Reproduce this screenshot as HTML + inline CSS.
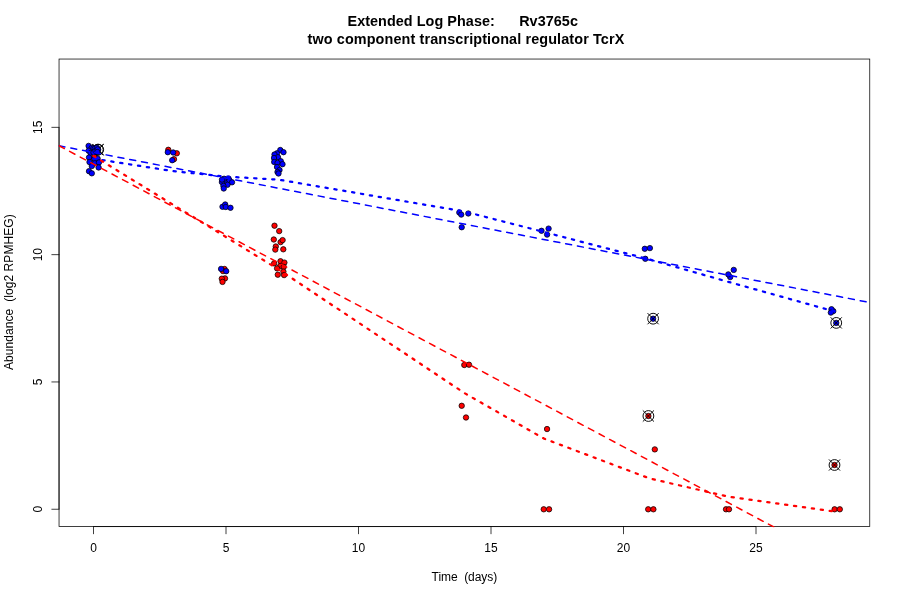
<!DOCTYPE html>
<html><head><meta charset="utf-8"><style>
html,body{margin:0;padding:0;background:#fff;}
svg{display:block;will-change:transform}
text{font-family:"Liberation Sans",sans-serif;font-size:12px;fill:#000;white-space:pre}
.t{font-weight:bold;font-size:14.4px}
</style></head><body>
<svg width="900" height="600" viewBox="0 0 900 600">
<rect width="900" height="600" fill="#fff"/>
<text class="t" x="462.7" y="26" text-anchor="middle" textLength="230.4" lengthAdjust="spacing" xml:space="preserve">Extended Log Phase:      Rv3765c</text>
<text class="t" x="465.9" y="43.9" text-anchor="middle" textLength="316.8" lengthAdjust="spacing">two component transcriptional regulator TcrX</text>
<text x="464.4" y="581" text-anchor="middle" textLength="65.6" lengthAdjust="spacing" xml:space="preserve">Time  (days)</text>
<text transform="translate(12.8,292.2) rotate(-90)" text-anchor="middle" textLength="155.8" lengthAdjust="spacing" xml:space="preserve">Abundance  (log2 RPMHEG)</text>
<rect x="59.04" y="59.04" width="810.72" height="467.5199999999999" fill="none" stroke="#000" stroke-width="0.75"/>
<path d="M93.50 526.56H756.00" stroke="#000" stroke-width="0.75" fill="none"/>
<path d="M59.04 509.25V127.35" stroke="#000" stroke-width="0.75" fill="none"/>
<path d="M93.50 526.56v7.2" stroke="#000" stroke-width="0.75" stroke-linecap="round" fill="none"/><text x="93.50" y="551.6" text-anchor="middle">0</text><path d="M226.00 526.56v7.2" stroke="#000" stroke-width="0.75" stroke-linecap="round" fill="none"/><text x="226.00" y="551.6" text-anchor="middle">5</text><path d="M358.50 526.56v7.2" stroke="#000" stroke-width="0.75" stroke-linecap="round" fill="none"/><text x="358.50" y="551.6" text-anchor="middle">10</text><path d="M491.00 526.56v7.2" stroke="#000" stroke-width="0.75" stroke-linecap="round" fill="none"/><text x="491.00" y="551.6" text-anchor="middle">15</text><path d="M623.50 526.56v7.2" stroke="#000" stroke-width="0.75" stroke-linecap="round" fill="none"/><text x="623.50" y="551.6" text-anchor="middle">20</text><path d="M756.00 526.56v7.2" stroke="#000" stroke-width="0.75" stroke-linecap="round" fill="none"/><text x="756.00" y="551.6" text-anchor="middle">25</text>
<path d="M59.04 509.25h-7.2" stroke="#000" stroke-width="0.75" stroke-linecap="round" fill="none"/><text transform="translate(41.5,509.25) rotate(-90)" text-anchor="middle">0</text><path d="M59.04 381.95h-7.2" stroke="#000" stroke-width="0.75" stroke-linecap="round" fill="none"/><text transform="translate(41.5,381.95) rotate(-90)" text-anchor="middle">5</text><path d="M59.04 254.65h-7.2" stroke="#000" stroke-width="0.75" stroke-linecap="round" fill="none"/><text transform="translate(41.5,254.65) rotate(-90)" text-anchor="middle">10</text><path d="M59.04 127.35h-7.2" stroke="#000" stroke-width="0.75" stroke-linecap="round" fill="none"/><text transform="translate(41.5,127.35) rotate(-90)" text-anchor="middle">15</text>
<clipPath id="c"><rect x="58.6" y="58.6" width="811.6" height="468.6"/></clipPath>
<g clip-path="url(#c)">
<circle cx="94.00" cy="158.00" r="2.7" fill="#ff0000" stroke="#000" stroke-width="0.75"/>
<circle cx="96.00" cy="161.00" r="2.7" fill="#ff0000" stroke="#000" stroke-width="0.75"/>
<circle cx="94.60" cy="156.50" r="2.7" fill="#ff0000" stroke="#000" stroke-width="0.75"/>
<circle cx="168.30" cy="149.80" r="2.7" fill="#ff0000" stroke="#000" stroke-width="0.75"/>
<circle cx="176.80" cy="153.30" r="2.7" fill="#ff0000" stroke="#000" stroke-width="0.75"/>
<circle cx="174.00" cy="159.20" r="2.7" fill="#ff0000" stroke="#000" stroke-width="0.75"/>
<circle cx="224.50" cy="269.00" r="2.7" fill="#ff0000" stroke="#000" stroke-width="0.75"/>
<circle cx="223.00" cy="271.10" r="2.7" fill="#ff0000" stroke="#000" stroke-width="0.75"/>
<circle cx="225.00" cy="278.40" r="2.7" fill="#ff0000" stroke="#000" stroke-width="0.75"/>
<circle cx="221.80" cy="278.70" r="2.7" fill="#ff0000" stroke="#000" stroke-width="0.75"/>
<circle cx="222.50" cy="281.90" r="2.7" fill="#ff0000" stroke="#000" stroke-width="0.75"/>
<circle cx="274.50" cy="225.70" r="2.7" fill="#ff0000" stroke="#000" stroke-width="0.75"/>
<circle cx="279.20" cy="231.10" r="2.7" fill="#ff0000" stroke="#000" stroke-width="0.75"/>
<circle cx="273.80" cy="239.50" r="2.7" fill="#ff0000" stroke="#000" stroke-width="0.75"/>
<circle cx="280.60" cy="242.10" r="2.7" fill="#ff0000" stroke="#000" stroke-width="0.75"/>
<circle cx="282.60" cy="240.10" r="2.7" fill="#ff0000" stroke="#000" stroke-width="0.75"/>
<circle cx="275.80" cy="246.50" r="2.7" fill="#ff0000" stroke="#000" stroke-width="0.75"/>
<circle cx="275.30" cy="249.60" r="2.7" fill="#ff0000" stroke="#000" stroke-width="0.75"/>
<circle cx="283.30" cy="249.30" r="2.7" fill="#ff0000" stroke="#000" stroke-width="0.75"/>
<circle cx="280.50" cy="261.20" r="2.7" fill="#ff0000" stroke="#000" stroke-width="0.75"/>
<circle cx="284.40" cy="262.60" r="2.7" fill="#ff0000" stroke="#000" stroke-width="0.75"/>
<circle cx="274.10" cy="263.40" r="2.7" fill="#ff0000" stroke="#000" stroke-width="0.75"/>
<circle cx="280.20" cy="266.00" r="2.7" fill="#ff0000" stroke="#000" stroke-width="0.75"/>
<circle cx="283.70" cy="266.90" r="2.7" fill="#ff0000" stroke="#000" stroke-width="0.75"/>
<circle cx="277.10" cy="268.40" r="2.7" fill="#ff0000" stroke="#000" stroke-width="0.75"/>
<circle cx="283.40" cy="271.60" r="2.7" fill="#ff0000" stroke="#000" stroke-width="0.75"/>
<circle cx="277.80" cy="274.70" r="2.7" fill="#ff0000" stroke="#000" stroke-width="0.75"/>
<circle cx="284.10" cy="275.10" r="2.7" fill="#ff0000" stroke="#000" stroke-width="0.75"/>
<circle cx="464.30" cy="365.00" r="2.7" fill="#ff0000" stroke="#000" stroke-width="0.75"/>
<circle cx="469.00" cy="364.70" r="2.7" fill="#ff0000" stroke="#000" stroke-width="0.75"/>
<circle cx="461.70" cy="405.80" r="2.7" fill="#ff0000" stroke="#000" stroke-width="0.75"/>
<circle cx="466.00" cy="417.50" r="2.7" fill="#ff0000" stroke="#000" stroke-width="0.75"/>
<circle cx="547.05" cy="429.05" r="2.7" fill="#ff0000" stroke="#000" stroke-width="0.75"/>
<circle cx="543.73" cy="509.30" r="2.7" fill="#ff0000" stroke="#000" stroke-width="0.75"/>
<circle cx="549.07" cy="509.30" r="2.7" fill="#ff0000" stroke="#000" stroke-width="0.75"/>
<circle cx="648.40" cy="416.00" r="2.7" fill="#ff0000" stroke="#000" stroke-width="0.75"/>
<circle cx="654.80" cy="449.40" r="2.7" fill="#ff0000" stroke="#000" stroke-width="0.75"/>
<circle cx="648.20" cy="509.30" r="2.7" fill="#ff0000" stroke="#000" stroke-width="0.75"/>
<circle cx="653.40" cy="509.30" r="2.7" fill="#ff0000" stroke="#000" stroke-width="0.75"/>
<circle cx="726.00" cy="509.30" r="2.7" fill="#ff0000" stroke="#000" stroke-width="0.75"/>
<circle cx="729.00" cy="509.30" r="2.7" fill="#ff0000" stroke="#000" stroke-width="0.75"/>
<circle cx="834.50" cy="465.00" r="2.7" fill="#ff0000" stroke="#000" stroke-width="0.75"/>
<circle cx="834.60" cy="509.30" r="2.7" fill="#ff0000" stroke="#000" stroke-width="0.75"/>
<circle cx="839.80" cy="509.30" r="2.7" fill="#ff0000" stroke="#000" stroke-width="0.75"/>
<circle cx="98.20" cy="149.60" r="2.7" fill="#0000ff" stroke="#000" stroke-width="0.75"/>
<circle cx="97.80" cy="149.75" r="5.4" fill="none" stroke="#000" stroke-width="0.95"/>
<path d="M92.50 144.45L103.10 155.05M92.50 155.05L103.10 144.45" fill="none" stroke="#000" stroke-width="0.95" stroke-linecap="round"/>
<circle cx="98.20" cy="149.60" r="5.4" fill="none" stroke="#000" stroke-width="0.95"/>
<path d="M92.90 144.30L103.50 154.90M92.90 154.90L103.50 144.30" fill="none" stroke="#000" stroke-width="0.95" stroke-linecap="round"/>
<circle cx="88.60" cy="145.90" r="2.7" fill="#0000ff" stroke="#000" stroke-width="0.75"/>
<circle cx="91.70" cy="147.90" r="2.7" fill="#0000ff" stroke="#000" stroke-width="0.75"/>
<circle cx="93.40" cy="148.30" r="2.7" fill="#0000ff" stroke="#000" stroke-width="0.75"/>
<circle cx="94.80" cy="148.50" r="2.7" fill="#0000ff" stroke="#000" stroke-width="0.75"/>
<circle cx="88.60" cy="150.70" r="2.7" fill="#0000ff" stroke="#000" stroke-width="0.75"/>
<circle cx="90.60" cy="152.90" r="2.7" fill="#0000ff" stroke="#000" stroke-width="0.75"/>
<circle cx="93.50" cy="152.50" r="2.7" fill="#0000ff" stroke="#000" stroke-width="0.75"/>
<circle cx="95.50" cy="150.80" r="2.7" fill="#0000ff" stroke="#000" stroke-width="0.75"/>
<circle cx="96.90" cy="147.80" r="2.7" fill="#0000ff" stroke="#000" stroke-width="0.75"/>
<circle cx="97.70" cy="149.40" r="2.7" fill="#0000ff" stroke="#000" stroke-width="0.75"/>
<circle cx="97.30" cy="152.00" r="2.7" fill="#0000ff" stroke="#000" stroke-width="0.75"/>
<circle cx="89.00" cy="157.50" r="2.7" fill="#0000ff" stroke="#000" stroke-width="0.75"/>
<circle cx="94.40" cy="158.90" r="2.7" fill="#0000ff" stroke="#000" stroke-width="0.75"/>
<circle cx="97.60" cy="158.60" r="2.7" fill="#0000ff" stroke="#000" stroke-width="0.75"/>
<circle cx="89.50" cy="162.10" r="2.7" fill="#0000ff" stroke="#000" stroke-width="0.75"/>
<circle cx="94.80" cy="163.30" r="2.7" fill="#0000ff" stroke="#000" stroke-width="0.75"/>
<circle cx="99.00" cy="162.40" r="2.7" fill="#0000ff" stroke="#000" stroke-width="0.75"/>
<circle cx="91.80" cy="166.10" r="2.7" fill="#0000ff" stroke="#000" stroke-width="0.75"/>
<circle cx="98.60" cy="167.50" r="2.7" fill="#0000ff" stroke="#000" stroke-width="0.75"/>
<circle cx="89.00" cy="171.20" r="2.7" fill="#0000ff" stroke="#000" stroke-width="0.75"/>
<circle cx="91.80" cy="173.30" r="2.7" fill="#0000ff" stroke="#000" stroke-width="0.75"/>
<circle cx="167.80" cy="152.20" r="2.7" fill="#0000ff" stroke="#000" stroke-width="0.75"/>
<circle cx="173.20" cy="152.50" r="2.7" fill="#0000ff" stroke="#000" stroke-width="0.75"/>
<circle cx="172.20" cy="160.20" r="2.7" fill="#0000ff" stroke="#000" stroke-width="0.75"/>
<circle cx="225.60" cy="181.80" r="2.7" fill="#0000ff" stroke="#000" stroke-width="0.75"/>
<circle cx="221.90" cy="182.10" r="2.7" fill="#0000ff" stroke="#000" stroke-width="0.75"/>
<circle cx="224.10" cy="178.75" r="2.7" fill="#0000ff" stroke="#000" stroke-width="0.75"/>
<circle cx="228.60" cy="178.60" r="2.7" fill="#0000ff" stroke="#000" stroke-width="0.75"/>
<circle cx="229.50" cy="180.50" r="2.7" fill="#0000ff" stroke="#000" stroke-width="0.75"/>
<circle cx="232.00" cy="182.30" r="2.7" fill="#0000ff" stroke="#000" stroke-width="0.75"/>
<circle cx="227.50" cy="184.75" r="2.7" fill="#0000ff" stroke="#000" stroke-width="0.75"/>
<circle cx="223.40" cy="185.90" r="2.7" fill="#0000ff" stroke="#000" stroke-width="0.75"/>
<circle cx="223.75" cy="188.50" r="2.7" fill="#0000ff" stroke="#000" stroke-width="0.75"/>
<circle cx="222.00" cy="179.60" r="2.7" fill="#0000ff" stroke="#000" stroke-width="0.75"/>
<circle cx="222.50" cy="206.80" r="2.7" fill="#0000ff" stroke="#000" stroke-width="0.75"/>
<circle cx="225.20" cy="204.50" r="2.7" fill="#0000ff" stroke="#000" stroke-width="0.75"/>
<circle cx="225.80" cy="207.00" r="2.7" fill="#0000ff" stroke="#000" stroke-width="0.75"/>
<circle cx="230.50" cy="207.80" r="2.7" fill="#0000ff" stroke="#000" stroke-width="0.75"/>
<circle cx="221.10" cy="268.90" r="2.7" fill="#0000ff" stroke="#000" stroke-width="0.75"/>
<circle cx="226.20" cy="271.20" r="2.7" fill="#0000ff" stroke="#000" stroke-width="0.75"/>
<circle cx="280.30" cy="150.00" r="2.7" fill="#0000ff" stroke="#000" stroke-width="0.75"/>
<circle cx="283.50" cy="152.20" r="2.7" fill="#0000ff" stroke="#000" stroke-width="0.75"/>
<circle cx="277.00" cy="153.30" r="2.7" fill="#0000ff" stroke="#000" stroke-width="0.75"/>
<circle cx="274.50" cy="154.50" r="2.7" fill="#0000ff" stroke="#000" stroke-width="0.75"/>
<circle cx="278.00" cy="157.20" r="2.7" fill="#0000ff" stroke="#000" stroke-width="0.75"/>
<circle cx="274.00" cy="158.00" r="2.7" fill="#0000ff" stroke="#000" stroke-width="0.75"/>
<circle cx="280.80" cy="161.20" r="2.7" fill="#0000ff" stroke="#000" stroke-width="0.75"/>
<circle cx="274.20" cy="162.00" r="2.7" fill="#0000ff" stroke="#000" stroke-width="0.75"/>
<circle cx="277.50" cy="163.00" r="2.7" fill="#0000ff" stroke="#000" stroke-width="0.75"/>
<circle cx="282.50" cy="164.20" r="2.7" fill="#0000ff" stroke="#000" stroke-width="0.75"/>
<circle cx="277.00" cy="167.00" r="2.7" fill="#0000ff" stroke="#000" stroke-width="0.75"/>
<circle cx="279.50" cy="170.00" r="2.7" fill="#0000ff" stroke="#000" stroke-width="0.75"/>
<circle cx="277.50" cy="172.00" r="2.7" fill="#0000ff" stroke="#000" stroke-width="0.75"/>
<circle cx="278.50" cy="173.50" r="2.7" fill="#0000ff" stroke="#000" stroke-width="0.75"/>
<circle cx="459.30" cy="212.50" r="2.7" fill="#0000ff" stroke="#000" stroke-width="0.75"/>
<circle cx="461.25" cy="214.60" r="2.7" fill="#0000ff" stroke="#000" stroke-width="0.75"/>
<circle cx="468.30" cy="213.50" r="2.7" fill="#0000ff" stroke="#000" stroke-width="0.75"/>
<circle cx="461.70" cy="227.25" r="2.7" fill="#0000ff" stroke="#000" stroke-width="0.75"/>
<circle cx="541.50" cy="230.80" r="2.7" fill="#0000ff" stroke="#000" stroke-width="0.75"/>
<circle cx="548.60" cy="228.60" r="2.7" fill="#0000ff" stroke="#000" stroke-width="0.75"/>
<circle cx="547.10" cy="234.60" r="2.7" fill="#0000ff" stroke="#000" stroke-width="0.75"/>
<circle cx="644.80" cy="248.80" r="2.7" fill="#0000ff" stroke="#000" stroke-width="0.75"/>
<circle cx="649.90" cy="248.10" r="2.7" fill="#0000ff" stroke="#000" stroke-width="0.75"/>
<circle cx="645.30" cy="258.80" r="2.7" fill="#0000ff" stroke="#000" stroke-width="0.75"/>
<circle cx="730.20" cy="277.10" r="2.7" fill="#0000ff" stroke="#000" stroke-width="0.75"/>
<circle cx="728.30" cy="274.40" r="2.7" fill="#0000ff" stroke="#000" stroke-width="0.75"/>
<circle cx="733.75" cy="269.90" r="2.7" fill="#0000ff" stroke="#000" stroke-width="0.75"/>
<circle cx="653.10" cy="318.70" r="2.7" fill="#0000ff" stroke="#000" stroke-width="0.75"/>
<circle cx="833.30" cy="311.10" r="2.7" fill="#0000ff" stroke="#000" stroke-width="0.75"/>
<circle cx="831.50" cy="309.20" r="2.7" fill="#0000ff" stroke="#000" stroke-width="0.75"/>
<circle cx="830.85" cy="312.60" r="2.7" fill="#0000ff" stroke="#000" stroke-width="0.75"/>
<circle cx="836.24" cy="322.90" r="2.7" fill="#0000ff" stroke="#000" stroke-width="0.75"/>
<circle cx="653.10" cy="318.70" r="5.4" fill="none" stroke="#000" stroke-width="0.95"/>
<path d="M647.80 313.40L658.40 324.00M647.80 324.00L658.40 313.40" fill="none" stroke="#000" stroke-width="0.95" stroke-linecap="round"/>
<circle cx="836.24" cy="322.90" r="5.4" fill="none" stroke="#000" stroke-width="0.95"/>
<path d="M830.94 317.60L841.54 328.20M830.94 328.20L841.54 317.60" fill="none" stroke="#000" stroke-width="0.95" stroke-linecap="round"/>
<circle cx="648.40" cy="416.00" r="5.4" fill="none" stroke="#000" stroke-width="0.95"/>
<path d="M643.10 410.70L653.70 421.30M643.10 421.30L653.70 410.70" fill="none" stroke="#000" stroke-width="0.95" stroke-linecap="round"/>
<circle cx="834.50" cy="465.00" r="5.4" fill="none" stroke="#000" stroke-width="0.95"/>
<path d="M829.20 459.70L839.80 470.30M829.20 470.30L839.80 459.70" fill="none" stroke="#000" stroke-width="0.95" stroke-linecap="round"/>
<path d="M59.04 145.75L869.76 302.5" stroke="#0000ff" stroke-width="1.5" stroke-dasharray="6 6" stroke-linecap="round" fill="none"/>
<polyline points="93.50,158.70 173.00,171.10 226.00,176.60 279.00,179.70 464.50,211.50 544.00,232.00 650.00,259.60 729.50,282.20 835.50,311.70" stroke="#0000ff" stroke-width="2.25" stroke-dasharray="2.25 6.75" stroke-linecap="round" stroke-linejoin="round" fill="none"/>
<path d="M59.04 145.75L790 535.62" stroke="#ff0000" stroke-width="1.5" stroke-dasharray="6 6" stroke-linecap="round" fill="none"/>
<polyline points="93.50,155.90 173.00,204.70 226.00,237.00 279.00,269.70 464.50,393.10 544.00,438.60 650.00,478.60 729.50,496.85 835.50,511.70" stroke="#ff0000" stroke-width="2.25" stroke-dasharray="2.25 6.75" stroke-linecap="round" stroke-linejoin="round" fill="none"/>
</g>
</svg>
</body></html>
